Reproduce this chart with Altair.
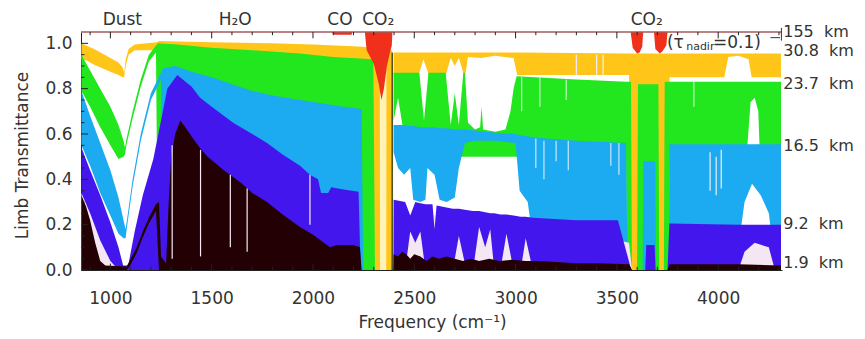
import altair as alt
import pandas as pd

X_DOMAIN = [855, 4315]
Y_DOMAIN = [0, 1.05]

FONT = "DejaVu Sans"
TXT = "#333333"

# ---- spectral bands: (frequency cm-1, upper transmittance, lower transmittance) ----
YELLOW_308 = [
    (857, 1.00, 0.93), (880, 0.99, 0.925), (920, 0.975, 0.905), (960, 0.955, 0.89),
    (1000, 0.935, 0.875), (1040, 0.915, 0.86), (1060, 0.895, 0.85), (1068, 0.87, 0.85),
    (1076, 0.93, 0.90), (1090, 0.975, 0.95), (1120, 0.995, 0.97), (1230, 1.005, 0.97),
    (1240, 1.01, 0.0), (1500, 1.005, 0.0), (1800, 1.0, 0.0), (2000, 0.995, 0.0),
    (2250, 0.985, 0.0), (2330, 0.975, 0.0), (2331, 0.0, 0.0), (2361, 0.0, 0.0),
    (2362, 0.97, 0.0), (2389, 0.97, 0.0), (2390, 0.0, 0.0), (2397, 0.0, 0.0),
    (2398, 0.96, 0.86), (2522, 0.96, 0.86), (2545, 0.96, 0.93), (2572, 0.96, 0.86),
    (2655, 0.96, 0.86), (2680, 0.96, 0.935), (2700, 0.96, 0.90), (2720, 0.96, 0.935),
    (2745, 0.96, 0.86), (2752, 0.96, 0.86), (2765, 0.96, 0.94), (2830, 0.96, 0.935),
    (2900, 0.96, 0.945), (2990, 0.96, 0.935), (3008, 0.96, 0.86), (3560, 0.955, 0.86),
    (3568, 0.955, 0.0), (3752, 0.955, 0.0), (3760, 0.955, 0.85), (4030, 0.955, 0.85),
    (4050, 0.955, 0.94), (4100, 0.955, 0.945), (4150, 0.955, 0.93), (4165, 0.955, 0.85),
    (4310, 0.955, 0.85),
]
PALE_YELLOW = [(2331, 0.97, 0.0), (2361, 0.97, 0.0)]
PALE_PINK = [
    (857, 0.34, 0.0), (900, 0.25, 0.0), (950, 0.13, 0.0), (1000, 0.04, 0.0),
    (1040, 0.0, 0.0), (1088, 0.0, 0.0), (1095, 0.04, 0.0), (1225, 0.29, 0.0),
    (1240, 0.30, 0.0), (1250, 0.0, 0.0), (2397, 0.0, 0.0), (2398, 0.25, 0.0),
    (3100, 0.22, 0.0), (3560, 0.12, 0.0), (3575, 0.0, 0.0), (4080, 0.0, 0.0),
    (4090, 0.15, 0.0), (4290, 0.15, 0.0), (4300, 0.0, 0.0),
]

GREEN_237 = [
    (857, 0.95, 0.79), (900, 0.88, 0.72), (950, 0.80, 0.63), (1000, 0.72, 0.55),
    (1040, 0.64, 0.49), (1065, 0.57, 0.50), (1072, 0.54, 0.51), (1080, 0.58, 0.555),
    (1110, 0.70, 0.67), (1150, 0.84, 0.81), (1190, 0.95, 0.92), (1225, 0.99, 0.96),
    (1235, 1.0, 0.0), (1330, 0.995, 0.0), (1500, 0.98, 0.0), (1700, 0.97, 0.0),
    (1936, 0.955, 0.0), (2100, 0.94, 0.0), (2298, 0.93, 0.0), (2306, 0.0, 0.0),
    (2397, 0.0, 0.0), (2398, 0.87, 0.66), (2420, 0.87, 0.76), (2445, 0.87, 0.62),
    (2455, 0.87, 0.50), (2525, 0.87, 0.50), (2548, 0.66, 0.50), (2570, 0.87, 0.50),
    (2655, 0.87, 0.50), (2680, 0.64, 0.50), (2700, 0.78, 0.50), (2720, 0.64, 0.50),
    (2742, 0.87, 0.50), (2750, 0.87, 0.50), (2765, 0.65, 0.50), (2800, 0.62, 0.50),
    (2825, 0.63, 0.50), (2832, 0.72, 0.50), (2840, 0.62, 0.50), (2900, 0.61, 0.50),
    (2950, 0.62, 0.50), (2975, 0.70, 0.50), (2990, 0.80, 0.50), (3005, 0.855, 0.50),
    (3300, 0.84, 0.50), (3545, 0.83, 0.50), (3548, 0.83, 0.0), (3570, 0.83, 0.0),
    (3574, 0.0, 0.0), (3600, 0.0, 0.0), (3604, 0.82, 0.0), (3705, 0.82, 0.0),
    (3709, 0.0, 0.0), (3732, 0.0, 0.0), (3736, 0.83, 0.0), (3758, 0.83, 0.0),
    (3762, 0.83, 0.50), (4140, 0.83, 0.50), (4160, 0.83, 0.74), (4180, 0.83, 0.76),
    (4198, 0.83, 0.70), (4206, 0.83, 0.50), (4310, 0.83, 0.50),
]

BLUE_165 = [
    (857, 0.79, 0.55), (900, 0.68, 0.46), (950, 0.56, 0.34), (1000, 0.44, 0.24),
    (1040, 0.32, 0.16), (1065, 0.22, 0.14), (1075, 0.18, 0.14), (1085, 0.24, 0.21),
    (1110, 0.40, 0.37), (1150, 0.60, 0.57), (1200, 0.78, 0.75), (1250, 0.87, 0.84),
    (1262, 0.89, 0.0), (1320, 0.90, 0.0), (1400, 0.875, 0.0), (1500, 0.85, 0.0),
    (1600, 0.82, 0.0), (1700, 0.79, 0.0), (1800, 0.77, 0.0), (1936, 0.75, 0.0),
    (2050, 0.735, 0.0), (2150, 0.72, 0.0), (2240, 0.71, 0.0), (2248, 0.0, 0.0),
    (2397, 0.0, 0.0), (2398, 0.64, 0.52), (2420, 0.64, 0.45), (2450, 0.64, 0.42),
    (2480, 0.635, 0.45), (2495, 0.635, 0.31), (2530, 0.63, 0.30), (2555, 0.63, 0.31),
    (2565, 0.63, 0.45), (2600, 0.63, 0.42), (2625, 0.625, 0.31), (2660, 0.625, 0.30),
    (2700, 0.62, 0.32), (2720, 0.62, 0.45), (2750, 0.62, 0.56), (2800, 0.615, 0.57),
    (2900, 0.605, 0.57), (3000, 0.60, 0.56), (3020, 0.595, 0.35), (3060, 0.59, 0.30),
    (3090, 0.585, 0.10), (3300, 0.57, 0.10), (3545, 0.56, 0.10), (3553, 0.0, 0.0),
    (3627, 0.0, 0.0), (3631, 0.48, 0.0), (3689, 0.48, 0.0), (3693, 0.0, 0.0),
    (3756, 0.0, 0.0), (3760, 0.555, 0.10), (4100, 0.555, 0.10), (4130, 0.555, 0.30),
    (4167, 0.555, 0.38), (4210, 0.555, 0.33), (4250, 0.555, 0.25), (4270, 0.555, 0.10),
    (4310, 0.555, 0.10),
]

PURPLE_92 = [
    (857, 0.54, 0.34), (900, 0.44, 0.25), (950, 0.33, 0.13), (1000, 0.21, 0.04),
    (1040, 0.10, 0.0), (1063, 0.02, 0.0), (1088, 0.02, 0.0), (1120, 0.17, 0.0),
    (1160, 0.33, 0.0), (1212, 0.49, 0.0), (1250, 0.66, 0.0), (1281, 0.80, 0.0),
    (1330, 0.86, 0.0), (1400, 0.81, 0.0), (1443, 0.76, 0.0), (1500, 0.72, 0.0),
    (1606, 0.65, 0.0), (1700, 0.60, 0.0), (1773, 0.56, 0.0), (1850, 0.51, 0.0),
    (1936, 0.46, 0.0), (1985, 0.42, 0.0), (2025, 0.40, 0.0), (2040, 0.34, 0.0),
    (2075, 0.34, 0.0), (2090, 0.365, 0.0), (2150, 0.355, 0.0), (2225, 0.345, 0.0),
    (2235, 0.0, 0.0), (2397, 0.0, 0.0), (2398, 0.31, 0.0), (2455, 0.30, 0.0),
    (2480, 0.24, 0.17), (2505, 0.30, 0.12), (2530, 0.295, 0.17), (2555, 0.29, 0.0),
    (2590, 0.29, 0.0), (2600, 0.18, 0.0), (2610, 0.285, 0.0), (2690, 0.27, 0.0),
    (2720, 0.27, 0.15), (2757, 0.265, 0.0), (2790, 0.26, 0.0), (2820, 0.26, 0.19),
    (2850, 0.255, 0.10), (2875, 0.25, 0.18), (2895, 0.25, 0.0), (2925, 0.245, 0.0),
    (2955, 0.245, 0.16), (2990, 0.24, 0.0), (3025, 0.235, 0.0), (3050, 0.235, 0.14),
    (3085, 0.23, 0.0), (3300, 0.22, 0.0), (3505, 0.22, 0.0), (3571, 0.0, 0.0),
    (3640, 0.0, 0.0), (3645, 0.11, 0.0), (3686, 0.11, 0.0), (3691, 0.0, 0.0),
    (3750, 0.0, 0.0), (3759, 0.205, 0.0), (4100, 0.20, 0.0), (4130, 0.20, 0.08),
    (4180, 0.20, 0.12), (4250, 0.20, 0.10), (4280, 0.20, 0.0), (4310, 0.20, 0.0),
]

BLACK_19 = [
    (857, 0.33, 0.0), (880, 0.28, 0.0), (900, 0.22, 0.0), (925, 0.12, 0.0),
    (950, 0.04, 0.0), (975, 0.02, 0.0), (1080, 0.015, 0.0), (1095, 0.04, 0.015),
    (1130, 0.10, 0.075), (1160, 0.17, 0.145), (1190, 0.23, 0.205), (1225, 0.29, 0.26),
    (1240, 0.30, 0.0), (1250, 0.06, 0.0), (1275, 0.03, 0.0), (1288, 0.30, 0.0),
    (1300, 0.50, 0.0), (1320, 0.60, 0.0), (1345, 0.66, 0.0), (1370, 0.63, 0.0),
    (1400, 0.59, 0.0), (1440, 0.54, 0.0), (1480, 0.50, 0.0), (1520, 0.47, 0.0),
    (1560, 0.44, 0.0), (1606, 0.41, 0.0), (1650, 0.38, 0.0), (1700, 0.34, 0.0),
    (1773, 0.30, 0.0), (1850, 0.245, 0.0), (1936, 0.19, 0.0), (2000, 0.155, 0.0),
    (2084, 0.10, 0.0), (2120, 0.11, 0.0), (2200, 0.11, 0.0), (2232, 0.10, 0.0),
    (2240, 0.0, 0.0), (2397, 0.0, 0.0), (2398, 0.07, 0.0), (2420, 0.06, 0.0),
    (2440, 0.08, 0.0), (2460, 0.07, 0.0), (2480, 0.05, 0.0), (2500, 0.07, 0.0),
    (2530, 0.06, 0.0), (2560, 0.04, 0.0), (2590, 0.06, 0.0), (2620, 0.05, 0.0),
    (2660, 0.06, 0.0), (2700, 0.05, 0.0), (2740, 0.04, 0.0), (2780, 0.05, 0.0),
    (2820, 0.04, 0.0), (2870, 0.05, 0.0), (2920, 0.04, 0.0), (2980, 0.045, 0.0),
    (3050, 0.04, 0.0), (3120, 0.04, 0.0), (3200, 0.035, 0.0), (3300, 0.03, 0.0),
    (3400, 0.03, 0.0), (3560, 0.025, 0.0), (3575, 0.0, 0.0), (3750, 0.0, 0.0),
    (3760, 0.025, 0.0), (4100, 0.025, 0.0), (4310, 0.02, 0.0),
]

# 155 km: absorption hanging from the top of the frame
RED_155 = [
    (857, 1.05, 1.05), (2095, 1.05, 1.05), (2100, 1.05, 1.038), (2190, 1.05, 1.038),
    (2195, 1.05, 1.05), (2256, 1.05, 1.05), (2265, 1.05, 0.97), (2300, 1.05, 0.91),
    (2325, 1.05, 0.82), (2338, 1.05, 0.75), (2350, 1.05, 0.80), (2365, 1.05, 0.90),
    (2380, 1.05, 0.96), (2389, 1.05, 0.99), (2392, 1.05, 1.05), (3568, 1.05, 1.05),
    (3578, 1.05, 0.98), (3600, 1.05, 0.955), (3612, 1.05, 0.96), (3625, 1.05, 0.985),
    (3630, 1.05, 1.05), (3683, 1.05, 1.05), (3690, 1.05, 0.975), (3712, 1.05, 0.955),
    (3725, 1.05, 0.965), (3744, 1.05, 0.99), (3750, 1.05, 1.05), (4310, 1.05, 1.05),
]

# narrow spectral lines showing the pale background: (frequency, from, to)
PALE_LINES = [
    (1305, 0.05, 0.55), (1445, 0.06, 0.53), (1592, 0.10, 0.42), (1675, 0.08, 0.36),
    (1985, 0.20, 0.42), (3300, 0.86, 0.95), (3400, 0.86, 0.95), (3432, 0.86, 0.95),
    (3960, 0.35, 0.52), (3990, 0.33, 0.50), (4015, 0.36, 0.53),
]
PALE_GREEN_LINES = [(3030, 0.70, 0.85), (3120, 0.72, 0.85), (3250, 0.75, 0.84), (3880, 0.72, 0.83)]
PALE_BLUE_LINES = [(3100, 0.45, 0.58), (3140, 0.40, 0.57), (3200, 0.48, 0.57), (3260, 0.44, 0.57),
                   (3470, 0.46, 0.56), (3510, 0.42, 0.56)]
EDGE_LINE = [(2391, 0.0, 0.96)]

X_MAJOR = [1000, 1500, 2000, 2500, 3000, 3500, 4000]
X_MINOR = [900, 1100, 1200, 1300, 1400, 1600, 1700, 1800, 1900, 2100, 2200, 2300, 2400,
           2600, 2700, 2800, 2900, 3100, 3200, 3300, 3400, 3600, 3700, 3800, 3900,
           4100, 4200, 4300]
Y_MAJOR = [0.0, 0.2, 0.4, 0.6, 0.8, 1.0]
Y_MINOR = [0.05, 0.1, 0.15, 0.25, 0.3, 0.35, 0.45, 0.5, 0.55, 0.65, 0.7, 0.75, 0.85, 0.9, 0.95]

TOP_LABELS = ["Dust", "H\u2082O", "CO", "CO\u2082", "CO\u2082"]
TOP_NU = [1059, 1616, 2133, 2322, 3647]

ALT_LABELS = ["155\u00a0\u00a0km", "30.8\u00a0\u00a0km", "23.7\u00a0\u00a0km", "16.5\u00a0\u00a0km",
              "\u20079.2\u00a0\u00a0km", "\u20071.9\u00a0\u00a0km"]
ALT_T = [1.052, 0.966, 0.82, 0.547, 0.203, 0.031]

xs = alt.Scale(domain=X_DOMAIN, nice=False, zero=False)
ys = alt.Scale(domain=Y_DOMAIN, nice=False, zero=False)

XAX = alt.Axis(values=X_MAJOR, format="d", labelFont=FONT, labelFontSize=17,
               labelColor=TXT, labelPadding=20, ticks=False, tickSize=0, grid=False,
               domainColor="#222222", domainWidth=1, title="Frequency (cm\u207b\u00b9)",
               titleFont=FONT, titleFontSize=17, titleFontWeight="normal",
               titleColor=TXT, titleX=351, titleY=52, titleBaseline="middle",
               titleAlign="center", labelFlush=False)
YAX = alt.Axis(values=Y_MAJOR, format=".1f", labelFont=FONT, labelFontSize=17,
               labelColor=TXT, labelPadding=9, ticks=False, tickSize=0, grid=False,
               domainColor="#222222", domainWidth=1, title="Limb Transmittance",
               titleFont=FONT, titleFontSize=17, titleFontWeight="normal",
               titleColor=TXT, titleX=-59, titleY=123, titleAngle=270,
               titleBaseline="middle", titleAlign="center", labelFlush=False)


def X(field):
    return alt.X(field, scale=xs, axis=XAX)


def Y(field):
    return alt.Y(field, scale=ys, axis=YAX)


def band(rows, color):
    df = pd.DataFrame(rows, columns=["nu", "hi", "lo"])
    return alt.Chart(df).mark_area(color=color, interpolate="linear").encode(
        x=X("nu:Q"), y=Y("hi:Q"), y2="lo:Q")


def vlines(rows, color, width):
    df = pd.DataFrame(rows, columns=["nu", "lo", "hi"])
    return alt.Chart(df).mark_rule(color=color, strokeWidth=width).encode(
        x=X("nu:Q"), y=Y("lo:Q"), y2="hi:Q")


layers = [
    band(YELLOW_308, "#FFC619"),
    band(PALE_YELLOW, "#FFF3B8"),
    band(GREEN_237, "#22E61E"),
    vlines(PALE_GREEN_LINES, "#C6F5C2", 1.2),
    band(BLUE_165, "#1CAAF0"),
    vlines(PALE_BLUE_LINES, "#C8E9FA", 1.2),
    band(PALE_PINK, "#F4E6F2"),
    band(PURPLE_92, "#4416EE"),
    band(BLACK_19, "#220004"),
    band(RED_155, "#F0301A"),
    vlines(PALE_LINES, "#F6ECF2", 1.2),
    vlines(EDGE_LINE, "#4A4A1C", 1.5),
]

# top frame line
top_df = pd.DataFrame({"a": [X_DOMAIN[0]], "b": [X_DOMAIN[1]], "t": [Y_DOMAIN[1]]})
layers.append(alt.Chart(top_df).mark_rule(color="#A55A5A", strokeWidth=1.5).encode(
    x=X("a:Q"), x2="b:Q", y=Y("t:Q")))


def xticks(vals, t0, t1):
    df = pd.DataFrame({"nu": vals, "t0": [t0] * len(vals), "t1": [t1] * len(vals)})
    return alt.Chart(df).mark_rule(color="#222222", strokeWidth=1).encode(
        x=X("nu:Q"), y=Y("t0:Q"), y2="t1:Q")


def yticks(vals, n0, n1):
    df = pd.DataFrame({"t": vals, "n0": [n0] * len(vals), "n1": [n1] * len(vals)})
    return alt.Chart(df).mark_rule(color="#222222", strokeWidth=1).encode(
        y=Y("t:Q"), x=X("n0:Q"), x2="n1:Q")


layers += [
    xticks(X_MAJOR, 0.0, 0.028), xticks(X_MINOR, 0.0, 0.014),
    xticks(X_MAJOR, 1.05, 1.022), xticks(X_MINOR, 1.05, 1.036),
    yticks(Y_MAJOR, 855, 890), yticks(Y_MINOR, 855, 872),
]

# molecule labels above the frame
top_lab = pd.DataFrame({"nu": TOP_NU, "label": TOP_LABELS})
layers.append(alt.Chart(top_lab).mark_text(font=FONT, fontSize=17, color=TXT,
                                           align="center", baseline="middle").encode(
    x=X("nu:Q"), y=alt.value(-12), text="label:N"))

# altitude labels at right
alt_lab = pd.DataFrame({"nu": [4321] * len(ALT_LABELS), "t": ALT_T, "label": ALT_LABELS})
layers.append(alt.Chart(alt_lab).mark_text(font=FONT, fontSize=16, color=TXT,
                                           align="left", baseline="middle").encode(
    x=X("nu:Q"), y=Y("t:Q"), text="label:N"))

# tau annotation
TAU_PARTS = ["(\u03c4", "nadir", "=0.1)"]
TAU_NU = [3747, 3842, 3974]
TAU_T = [1.0, 0.982, 1.0]
TAU_SIZE = [17, 11, 17]
for lab, nu, t, size in zip(TAU_PARTS, TAU_NU, TAU_T, TAU_SIZE):
    d = pd.DataFrame({"nu": [nu], "t": [t], "label": [lab]})
    layers.append(alt.Chart(d).mark_text(font=FONT, fontSize=size, color=TXT,
                                         align="left", baseline="middle").encode(
        x=X("nu:Q"), y=Y("t:Q"), text="label:N"))

BRACKET_H = [(4258, 4305, 1.025)]
BRACKET_V = [(4312, 1.012, 1.068)]
bh = pd.DataFrame(BRACKET_H, columns=["a", "b", "t"])
layers.append(alt.Chart(bh).mark_rule(color=TXT, strokeWidth=1).encode(
    x=X("a:Q"), x2="b:Q", y=Y("t:Q")))
bv = pd.DataFrame(BRACKET_V, columns=["nu", "lo", "hi"])
layers.append(alt.Chart(bv).mark_rule(color=TXT, strokeWidth=1).encode(
    x=X("nu:Q"), y=Y("lo:Q"), y2="hi:Q"))

chart = alt.layer(*layers).properties(
    width=701, height=238,
    padding={"left": 81, "top": 32, "right": 83, "bottom": 69},
    autosize=alt.AutoSizeParams(type="none"),
    background="white",
).configure_view(strokeWidth=0)

chart.save("out.html", embed_options={"renderer": "svg", "actions": False})
